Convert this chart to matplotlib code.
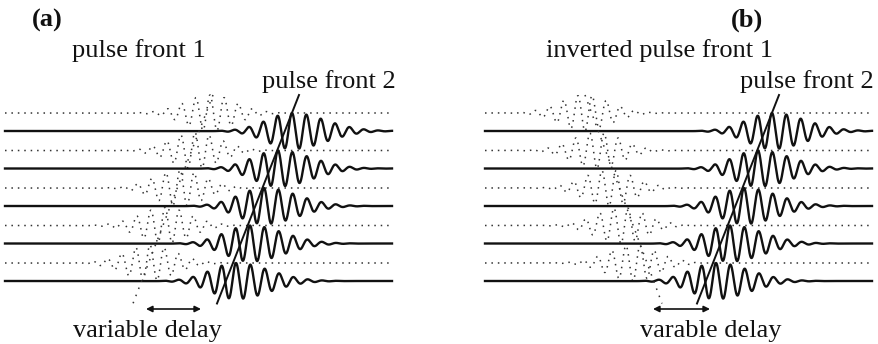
import numpy as np
import matplotlib
matplotlib.use("Agg")
import matplotlib.pyplot as plt

# pulse centres (time, px along trace) for the 5 rows, top to bottom
solid_centre = [287, 273, 259, 245, 231]
dotted_centre_a = [205, 190, 175, 160, 145]
dotted_centre_b = [100, 112, 124, 136, 148]

# pulse fronts: (time at top, time at bottom), rows at top/bottom
front2 = [294, 212]
front1_a = [208, 128]
front1_b = [100, 177]
front_rows = [-0.96, 4.6]

# variable delay arrows (start, end) in time
delay_a = [141, 196]
delay_b = [168, 225]

# carrier / envelope parameters
period_solid = 14.4
period_dot = 14.2
amp = 0.48
sig_l, sig_r = 25, 33
sig_dot = 25

W, H = 879, 344
fig = plt.figure(figsize=(W / 100, H / 100), dpi=100)
serif = ["Liberation Serif", "DejaVu Serif"]

t = np.linspace(0, 387, 3000)


def solid_pulse(c):
    s = np.where(t < c, sig_l, sig_r)
    return amp * np.exp(-0.5 * ((t - c) / s) ** 2) * np.cos(2 * np.pi * (t - c) / period_solid)


def dotted_pulse(c, sign=1):
    return sign * 0.48 * np.exp(-0.5 * ((t - c) / sig_dot) ** 2) * np.cos(2 * np.pi * (t - c) / period_dot)


# row k solid baseline at y = k, dotted baseline at y = k - 0.48 ; 1 row = 37.5 px
y_top = -131 / 37.5
y_bot = (H - 131) / 37.5


def make_panel(left_px, t0_px, dotted_centre, front1, delay, sign):
    ax = fig.add_axes([left_px / W, 0, (W / 2) / W, 1])
    ax.set_xlim(left_px - t0_px, left_px - t0_px + W / 2)
    ax.set_ylim(y_bot, y_top)
    ax.axis("off")
    for k in range(5):
        ax.plot(t, k - 0.48 - dotted_pulse(dotted_centre[k], sign), color="#333333",
                lw=1.1, linestyle=(0, (1, 3.2)))
        ax.plot(t, k - solid_pulse(solid_centre[k]), color="#111111", lw=1.7)
    ax.plot(front2, front_rows, color="#111111", lw=1.4)
    ax.plot(front1, front_rows, color="#333333", lw=1.1, linestyle=(0, (1, 4)))
    yd = (309 - 131) / 37.5
    ax.annotate("", xy=(delay[1], yd), xytext=(delay[0], yd),
                arrowprops=dict(arrowstyle="<|-|>", lw=1.2, color="#111111",
                                mutation_scale=9, shrinkA=0, shrinkB=0))
    return ax


make_panel(0, 5, dotted_centre_a, front1_a, delay_a, 1)
make_panel(440, 485, dotted_centre_b, front1_b, delay_b, -1)


def label(x, y, s, bold=False):
    fig.text(x / W, 1 - y / H, s, ha="center", va="baseline", fontsize=19,
             family=serif, fontweight="bold" if bold else "normal", color="#111111")


label(47, 27, "(a)", bold=True)
label(139, 57, "pulse front 1")
label(329, 88, "pulse front 2")
label(147, 337, "variable delay")

label(747, 27, "(b)", bold=True)
label(660, 57, "inverted pulse front 1")
label(807, 88, "pulse front 2")
label(711, 337, "varable delay")

fig.savefig("out.png", dpi=100)
